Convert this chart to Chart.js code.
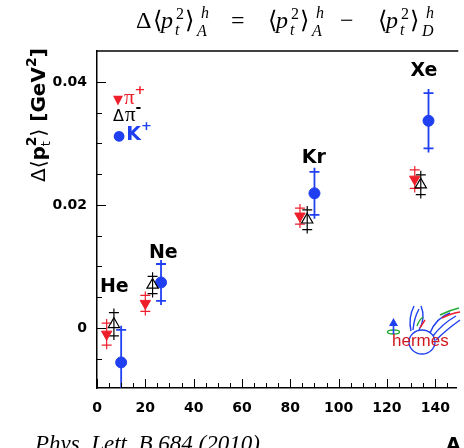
<!DOCTYPE html>
<html><head><meta charset="utf-8">
<script src="https://cdn.jsdelivr.net/npm/chart.js@4.4.1/dist/chart.umd.min.js"></script>
<style>html,body{margin:0;padding:0;background:#fff;overflow:hidden}#wrap{width:464px;height:448px;position:relative}</style>
</head><body><div id="wrap"><canvas id="c" width="464" height="448"></canvas></div>
<script>
// ---- data ----
const nuclei = ['He', 'Ne', 'Kr', 'Xe'];
const piPlusA   = [4, 20, 84, 131.5];
const piPlusVal = [-0.0010, 0.0040, 0.0182, 0.0242];
const piPlusErr = [0.0018, 0.0013, 0.0013, 0.0015];
const piMinusA   = [7, 23, 87, 134];
const piMinusVal = [0.0006, 0.0070, 0.0176, 0.0233];
const piMinusErr = [0.0019, 0.0014, 0.0016, 0.0016];
const kPlusA   = [10, 26.5, 90, 137.2];
const kPlusVal = [-0.0056, 0.0074, 0.0219, 0.0337];
const kPlusErr = [0.0053, 0.0030, 0.0035, 0.0045];
const xTickLabels = [0, 20, 40, 60, 80, 100, 120, 140];
const yTickLabels = [0, 0.02, 0.04];

// ---- presentation config ----
const RED = '#ee1f2b', BLUE = '#1f3ff0', BLACK = '#000';
const labelAnchors = { He: [1.2, 0.0059], Ne: [21.5, 0.0114], Kr: [84.7, 0.0268], Xe: [129.7, 0.0410] };
const SANSB = '"DejaVu Sans", sans-serif';
const SERIF = '"Liberation Serif", "DejaVu Serif", serif';

function toPts(xs, ys) { return xs.map((x, i) => ({ x: x, y: ys[i] })); }

function rich(ctx, parts, x, y, draw) {
  let cx = x;
  for (const p of parts) {
    if (p.stack) {
      let w = 0;
      for (const q of p.stack) {
        ctx.font = q.f;
        if (draw) ctx.fillText(q.t, cx, y + (q.dy || 0));
        w = Math.max(w, ctx.measureText(q.t).width);
      }
      cx += w;
    } else {
      ctx.font = p.f;
      if (p.c) ctx.fillStyle = p.c;
      if (draw) ctx.fillText(p.t, cx + (p.dx || 0), y + (p.dy || 0));
      cx += ctx.measureText(p.t).width + (p.dx || 0);
    }
  }
  return cx - x;
}

const errorBars = {
  id: 'errorBars',
  beforeDatasetsDraw(chart) {
    const { ctx, chartArea: a, scales: { x, y } } = chart;
    ctx.save();
    ctx.beginPath(); ctx.rect(a.left, a.top, a.right - a.left, a.bottom - a.top); ctx.clip();
    chart.data.datasets.forEach((ds) => {
      ctx.strokeStyle = ds.errColor; ctx.lineWidth = ds.errWidth;
      ds.data.forEach((p, j) => {
        const px = x.getPixelForValue(p.x);
        const yt = y.getPixelForValue(p.y + ds.err[j]);
        const yb = y.getPixelForValue(p.y - ds.err[j]);
        ctx.beginPath();
        ctx.moveTo(px, yt - 4); ctx.lineTo(px, yb + 4);
        ctx.moveTo(px - 5, yt); ctx.lineTo(px + 5, yt);
        ctx.moveTo(px - 5, yb); ctx.lineTo(px + 5, yb);
        ctx.stroke();
      });
    });
    ctx.restore();
  }
};

const decorations = {
  id: 'decorations',
  afterDraw(chart) {
    const { ctx, chartArea: a, scales: { x, y } } = chart;
    ctx.save();
    // top frame line
    ctx.strokeStyle = BLACK; ctx.lineWidth = 1.5;
    ctx.beginPath(); ctx.moveTo(a.left, a.top); ctx.lineTo(a.right + 2, a.top); ctx.stroke();
    // inward ticks
    ctx.lineWidth = 1;
    ctx.beginPath();
    x.ticks.forEach(t => {
      const px = Math.round(x.getPixelForValue(t.value)) + 0.5;
      const len = xTickLabels.includes(t.value) ? 9 : 5;
      ctx.moveTo(px, a.bottom); ctx.lineTo(px, a.bottom - len);
    });
    y.ticks.forEach(t => {
      const py = Math.round(y.getPixelForValue(t.value)) + 0.5;
      const len = yTickLabels.some(v => Math.abs(v - t.value) < 1e-9) ? 9 : 5;
      ctx.moveTo(a.left, py); ctx.lineTo(a.left + len, py);
    });
    ctx.stroke();

    ctx.textBaseline = 'alphabetic'; ctx.textAlign = 'left';
    // title (TeX-like formula, pieces laid out left to right)
    ctx.fillStyle = BLACK;
    const M = '24px ' + SERIF, I = 'italic 24px ' + SERIF, S = '16px ' + SERIF, SI = 'italic 16px ' + SERIF;
    const group = (x0, lower) => [
      { t: '⟨', f: M, x: x0 }, { t: 'p', f: I, x: x0 + 8 }, { t: '2', f: S, x: x0 + 23, dy: -9 }, { t: 't', f: SI, x: x0 + 22, dy: 7 },
      { t: '⟩', f: M, x: x0 + 32 }, { t: 'h', f: SI, x: x0 + 48, dy: -10 }, { t: lower, f: SI, x: x0 + 44, dy: 8 }];
    const title = [{ t: 'Δ', f: M, x: 136 }, ...group(153, 'A'), { t: '=', f: M, x: 231 },
      ...group(268, 'A'), { t: '−', f: M, x: 340 }, ...group(378, 'D')];
    title.forEach(p => { ctx.font = p.f; ctx.fillText(p.t, p.x, 28 + (p.dy || 0)); });

    // y axis title (rotated)
    ctx.save();
    ctx.translate(45, 182); ctx.rotate(-Math.PI / 2);
    const YB = 'bold 20px ' + SANSB, YR = '20px ' + SANSB, YS = 'bold 14px ' + SANSB, YSR = '13px ' + SANSB;
    rich(ctx, [{ t: 'Δ⟨', f: YR }, { t: 'p', f: YB }, { stack: [{ t: '2', f: YS, dy: -9 }, { t: 't', f: YSR, dy: 5 }] },
      { t: '⟩', f: YR }, { t: ' [GeV', f: YB }, { t: '2', f: YS, dy: -9 }, { t: ']', f: YB }], 0, 0, true);
    ctx.restore();

    // legend
    rich(ctx, [{ t: '▼', f: '13px "DejaVu Sans"', c: RED }, { t: 'π', f: '21px ' + SERIF, dx: 1 }, { t: '+', f: 'bold 13px ' + SANSB, dy: -10 }], 113, 104, true);
    rich(ctx, [{ t: 'Δ', f: '16px "DejaVu Sans"', c: BLACK }, { t: 'π', f: '21px ' + SERIF, dx: 1 }, { t: '-', f: 'bold 14px ' + SANSB, dy: -9 }], 113, 121, true);
    rich(ctx, [{ t: '●', f: '14px "DejaVu Sans"', c: BLUE }, { t: 'K', f: 'bold 19px ' + SANSB, dx: 1 }, { t: '+', f: 'bold 13px ' + SANSB, dy: -10 }], 113, 140, true);

    // nucleus labels
    ctx.fillStyle = BLACK; ctx.font = 'bold 19px ' + SANSB;
    nuclei.forEach(n => {
      const [ax, ay] = labelAnchors[n];
      ctx.fillText(n, x.getPixelForValue(ax), y.getPixelForValue(ay));
    });

    // hermes logo
    ctx.lineWidth = 1.3;
    ctx.strokeStyle = BLUE;
    ctx.beginPath(); ctx.ellipse(422, 342, 13, 12, 0, 0, Math.PI * 2); ctx.stroke();
    ctx.strokeStyle = '#22aa33';
    ctx.beginPath(); ctx.ellipse(393.5, 332, 6, 2, 0, 0, Math.PI * 2); ctx.stroke();
    ctx.strokeStyle = BLUE; ctx.lineWidth = 1.6;
    ctx.beginPath(); ctx.moveTo(393.5, 334); ctx.lineTo(393.5, 324); ctx.stroke();
    ctx.fillStyle = BLUE;
    ctx.beginPath(); ctx.moveTo(393.5, 318); ctx.lineTo(389, 326); ctx.lineTo(398, 326); ctx.closePath(); ctx.fill();
    // left wing
    ctx.lineWidth = 1.4;
    ctx.beginPath();
    ctx.moveTo(411, 331); ctx.quadraticCurveTo(408, 318, 414, 306);
    ctx.moveTo(413, 330); ctx.quadraticCurveTo(414, 318, 419, 309);
    ctx.moveTo(419, 330); ctx.quadraticCurveTo(426, 318, 421, 306);
    ctx.stroke();
    ctx.strokeStyle = '#22aa33';
    ctx.beginPath(); ctx.moveTo(417, 326); ctx.quadraticCurveTo(419, 320, 423, 317); ctx.stroke();
    ctx.strokeStyle = RED;
    ctx.beginPath(); ctx.moveTo(420, 328); ctx.quadraticCurveTo(423, 323, 425, 320); ctx.stroke();
    // right wing
    ctx.strokeStyle = BLUE;
    ctx.beginPath();
    ctx.moveTo(430, 333); ctx.quadraticCurveTo(436, 318, 450, 313);
    ctx.moveTo(433, 336); ctx.quadraticCurveTo(442, 324, 456, 316);
    ctx.moveTo(436, 340); ctx.quadraticCurveTo(446, 330, 460, 320);
    ctx.stroke();
    ctx.strokeStyle = '#22aa33';
    ctx.beginPath(); ctx.moveTo(440, 315); ctx.quadraticCurveTo(450, 310, 459, 308); ctx.stroke();
    ctx.strokeStyle = RED;
    ctx.beginPath(); ctx.moveTo(442, 318); ctx.quadraticCurveTo(452, 313, 460, 312); ctx.stroke();
    ctx.fillStyle = '#d01820'; ctx.font = '17px "Liberation Sans", sans-serif';
    ctx.fillText('hermes', 392, 346);

    // bottom texts
    ctx.fillStyle = BLACK;
    ctx.font = 'italic 23px ' + SERIF;
    ctx.fillText('Phys. Lett. B 684 (2010)', 35, 451);
    ctx.font = 'bold 19px ' + SANSB;
    ctx.fillText('A', 446, 451);
    ctx.restore();
  }
};

new Chart(document.getElementById('c'), {
  type: 'scatter',
  data: {
    datasets: [
      { label: 'π+', data: toPts(piPlusA, piPlusVal), err: piPlusErr, errColor: RED, errWidth: 1.2,
        pointStyle: 'triangle', rotation: 180, radius: 6, backgroundColor: RED, borderColor: RED, borderWidth: 1 },
      { label: 'π-', data: toPts(piMinusA, piMinusVal), err: piMinusErr, errColor: BLACK, errWidth: 1.2,
        pointStyle: 'triangle', radius: 6.5, backgroundColor: 'rgba(0,0,0,0)', borderColor: BLACK, borderWidth: 1.2 },
      { label: 'K+', data: toPts(kPlusA, kPlusVal), err: kPlusErr, errColor: BLUE, errWidth: 1.8,
        pointStyle: 'circle', radius: 5.5, backgroundColor: BLUE, borderColor: BLUE, borderWidth: 1 }
    ]
  },
  options: {
    responsive: false, animation: false,
    layout: { padding: { left: 0, top: 51, right: 0, bottom: 0 } },
    plugins: { legend: { display: false }, tooltip: { enabled: false } },
    scales: {
      x: {
        type: 'linear', min: 0, max: 148.7,
        afterBuildTicks: s => { const t = []; for (let v = 0; v <= 145; v += 5) t.push({ value: v }); s.ticks = t; },
        afterFit: s => { s.height = 60; },
        grid: { display: false, drawTicks: false },
        border: { display: true, color: BLACK, width: 1.5 },
        ticks: { autoSkip: false, maxRotation: 0, padding: 12, color: BLACK, font: { family: 'DejaVu Sans', weight: 'bold', size: 14 },
          callback: v => xTickLabels.includes(v) ? String(v) : '' }
      },
      y: {
        type: 'linear', min: -0.00976, max: 0.04504,
        afterBuildTicks: s => { const t = []; for (let k = -1; k <= 8; k++) t.push({ value: Math.round(k * 5) / 1000 }); s.ticks = t; },
        afterFit: s => { s.width = 97; },
        grid: { display: false, drawTicks: false },
        border: { display: true, color: BLACK, width: 1.5 },
        ticks: { autoSkip: false, padding: 10, color: BLACK, font: { family: 'DejaVu Sans', weight: 'bold', size: 14 },
          callback: v => { const m = yTickLabels.find(u => Math.abs(u - v) < 1e-9); return m === undefined ? '' : String(m); } }
      }
    }
  },
  plugins: [errorBars, decorations]
});
</script>
</body></html>
